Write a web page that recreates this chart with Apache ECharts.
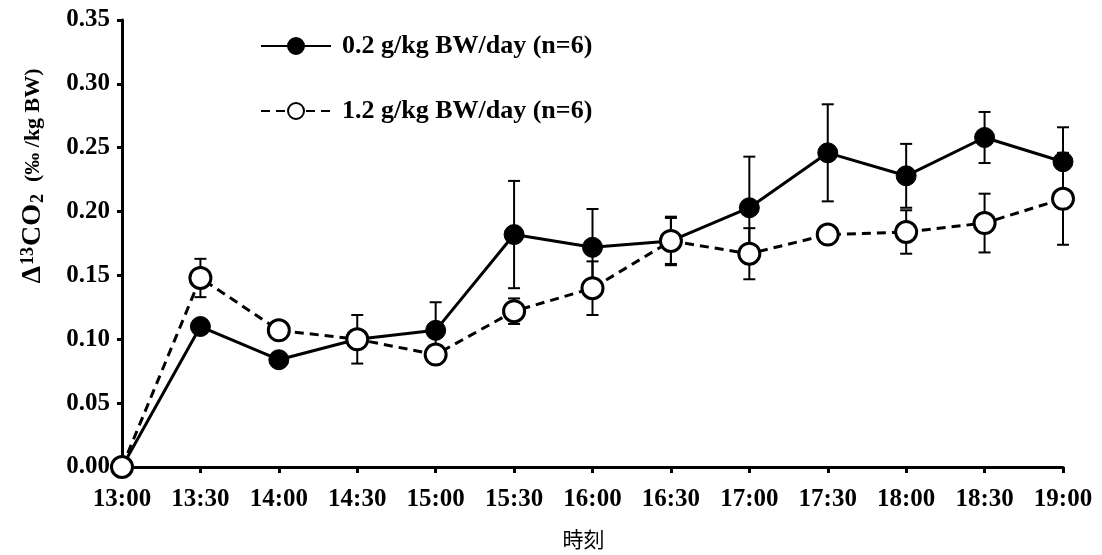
<!DOCTYPE html>
<html>
<head>
<meta charset="utf-8">
<script src="https://cdn.jsdelivr.net/npm/echarts@6/dist/echarts.min.js"></script>
<style>
  html, body { margin: 0; padding: 0; background: #fff; }
  #chart { width: 1102px; height: 555px; }
</style>
</head>
<body>
<div id="chart"></div>
<script>
// time points
const times = ['13:00', '13:30', '14:00', '14:30', '15:00', '15:30', '16:00',
  '16:30', '17:00', '17:30', '18:00', '18:30', '19:00']

// 0.2 g/kg BW/day group: mean and SD
const lowDose = [0, 0.110, 0.084, 0.100, 0.107, 0.182, 0.172, 0.177, 0.203, 0.246, 0.228, 0.258, 0.239]
const lowDoseSd = [0, 0.005, 0.004, 0.005, 0.022, 0.042, 0.030, 0.018, 0.040, 0.038, 0.025, 0.020, 0.027]

// 1.2 g/kg BW/day group: mean and SD
const highDose = [0, 0.148, 0.107, 0.100, 0.088, 0.122, 0.140, 0.177, 0.167, 0.182, 0.184, 0.191, 0.210]
const highDoseSd = [0, 0.015, 0.005, 0.019, 0.005, 0.010, 0.021, 0.019, 0.020, 0.005, 0.017, 0.023, 0.036]

const lowName = '0.2 g/kg BW/day (n=6)'
const highName = '1.2 g/kg BW/day (n=6)'

const serif = '"Liberation Serif", "Times New Roman", serif'

function errorData(mean, sd) {
  return mean.map((m, i) => [i, m - sd[i], m + sd[i]])
}

function renderError(params, api) {
  const x = api.value(0)
  const lo = api.coord([x, api.value(1)])
  const hi = api.coord([x, api.value(2)])
  const w = 6
  const style = { stroke: '#000', lineWidth: 2 }
  return {
    type: 'group',
    children: [
      { type: 'line', shape: { x1: hi[0], y1: hi[1], x2: lo[0], y2: lo[1] }, style },
      { type: 'line', shape: { x1: hi[0] - w, y1: hi[1], x2: hi[0] + w, y2: hi[1] }, style },
      { type: 'line', shape: { x1: lo[0] - w, y1: lo[1], x2: lo[0] + w, y2: lo[1] }, style }
    ]
  }
}

const chart = echarts.init(document.getElementById('chart'))

chart.setOption({
  animation: false,
  backgroundColor: '#fff',
  grid: { left: 122, right: 39, top: 20, bottom: 88, containLabel: false, outerBoundsMode: 'none' },
  legend: {
    data: [lowName, highName],
    orient: 'vertical',
    left: 255,
    top: 28,
    itemWidth: 70,
    itemHeight: 20,
    itemGap: 39,
    textStyle: { fontFamily: serif, fontWeight: 'bold', fontSize: 26, color: '#000', padding: [0, 0, 0, 6] }
  },
  // y axis title with superscript / subscript
  graphic: [{
    type: 'text',
    x: 33,
    y: 176,
    rotation: Math.PI / 2,
    style: {
      text: '{d|Δ}{sup|13}{d|CO}{sub|2}{u|  (‰ /kg BW)}',
      align: 'center',
      verticalAlign: 'middle',
      rich: {
        d: { fontFamily: serif, fontWeight: 'bold', fontSize: 28, fill: '#000' },
        sup: { fontFamily: serif, fontWeight: 'bold', fontSize: 18, fill: '#000', verticalAlign: 'top', padding: [0, 1, 10, 1] },
        sub: { fontFamily: serif, fontWeight: 'bold', fontSize: 18, fill: '#000', verticalAlign: 'bottom', padding: [10, 1, 0, 1] },
        u: { fontFamily: serif, fontWeight: 'bold', fontSize: 22, fill: '#000' }
      }
    }
  }],
  xAxis: {
    type: 'category',
    data: times,
    boundaryGap: false,
    name: '時刻',
    nameLocation: 'middle',
    nameGap: 62,
    nameTextStyle: { fontFamily: '"Noto Sans CJK JP", sans-serif', fontSize: 21, color: '#000', padding: [0, 18, 0, 0] },
    axisLine: { lineStyle: { color: '#000', width: 3 } },
    axisTick: { alignWithLabel: true, length: 6, lineStyle: { width: 3 } },
    axisLabel: { margin: 20, fontFamily: serif, fontWeight: 'bold', fontSize: 25, color: '#000' }
  },
  yAxis: {
    type: 'value',
    min: 0,
    max: 0.35,
    interval: 0.05,
    axisLine: { show: true, lineStyle: { color: '#000', width: 3 } },
    axisTick: { show: true, length: 5, lineStyle: { width: 3 } },
    splitLine: { show: false },
    axisLabel: {
      margin: 12,
      fontFamily: serif, fontWeight: 'bold', fontSize: 25, color: '#000',
      formatter: (v) => v.toFixed(2)
    }
  },
  series: [
    {
      type: 'custom',
      name: 'lowErr',
      renderItem: renderError,
      data: errorData(lowDose, lowDoseSd),
      z: 1,
      silent: true
    },
    {
      type: 'custom',
      name: 'highErr',
      renderItem: renderError,
      data: errorData(highDose, highDoseSd),
      z: 1,
      silent: true
    },
    {
      name: lowName,
      type: 'line',
      data: lowDose,
      symbol: 'circle',
      symbolSize: 20,
      z: 3,
      lineStyle: { color: '#000', width: 3 },
      itemStyle: { color: '#000', borderColor: '#000', borderWidth: 1 }
    },
    {
      name: highName,
      type: 'line',
      data: highDose,
      symbol: 'circle',
      symbolSize: 21,
      z: 4,
      lineStyle: { color: '#000', width: 3, type: [9, 6] },
      itemStyle: { color: '#fff', borderColor: '#000', borderWidth: 3 }
    }
  ]
})
</script>
</body>
</html>
